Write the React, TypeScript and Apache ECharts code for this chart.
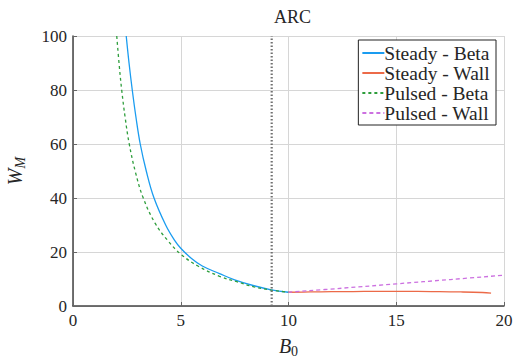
import React, { useEffect, useRef } from "react";
import * as echarts from "echarts";

const xTicks = [0, 5, 10, 15, 20];
const yTicks = [0, 20, 40, 60, 80, 100];

const steadyBeta: [number, number][] = [
  [2.47, 100], [2.6, 90], [2.75, 80], [2.92, 70], [3.12, 60], [3.4, 50], [3.76, 40],
  [4.3, 30], [4.7, 24.5], [5.0, 21.4], [5.5, 17.6], [6.0, 14.8], [6.8, 12.0],
  [7.5, 9.7], [8.4, 7.5], [9.2, 6.0], [10, 5.1],
];
const steadyWall: [number, number][] = [
  [10, 5.1], [11, 5.2], [12, 5.3], [13, 5.35], [14, 5.4], [15, 5.4], [16, 5.4],
  [17, 5.3], [18, 5.2], [19, 5.0], [19.4, 4.8],
];
const pulsedBeta: [number, number][] = [
  [2.03, 100], [2.15, 88.7], [2.26, 80], [2.42, 69.8], [2.61, 60], [2.9, 49.5],
  [3.26, 40], [3.8, 30.8], [4.4, 24.2], [5.0, 19.2], [5.8, 14.8], [6.8, 11.0],
  [7.6, 9.0], [8.4, 7.1], [9.2, 5.9], [10, 5.1],
];
const pulsedWall: [number, number][] = [
  [10, 5.1], [12.5, 6.6], [15, 8.2], [17.5, 9.8], [20, 11.4],
];
const limitB = 9.22;

const FONT = "'Liberation Serif', serif";
const INK = "#262626";

export default function App() {
  const ref = useRef<HTMLDivElement>(null);
  useEffect(() => {
    document.body.style.margin = "0";
    if (!ref.current) return;
    const chart = echarts.init(ref.current, undefined, { renderer: "svg" });
    const line = (name: string, data: [number, number][], color: string, type: any) => ({
      name,
      type: "line",
      data,
      smooth: 0.4,
      symbol: "none",
      lineStyle: { color, width: 1.3, type },
      itemStyle: { color },
    });
    chart.setOption({
      animation: false,
      backgroundColor: "#fff",
      textStyle: { fontFamily: FONT },
      title: {
        text: "ARC",
        left: 269,
        top: 3,
        textStyle: { fontFamily: FONT, fontSize: 18, fontWeight: "normal", color: INK },
      },
      grid: { left: 73, right: 11, top: 36, bottom: 52, containLabel: false, outerBoundsMode: "none" },
      legend: {
        data: ["Steady - Beta", "Steady - Wall", "Pulsed - Beta", "Pulsed - Wall"],
        orient: "vertical",
        right: 19,
        top: 40,
        itemWidth: 22,
        itemHeight: 14,
        itemGap: 0,
        padding: [3, 6, 2, 3],
        borderColor: "#222",
        borderWidth: 1,
        borderRadius: 0,
        backgroundColor: "#fff",
        itemStyle: { color: "transparent", borderWidth: 0 },
        textStyle: { fontFamily: FONT, fontSize: 19.5, color: INK, padding: [0, 0, 0, -5] },
      },
      xAxis: {
        type: "value",
        min: 0,
        max: 20,
        interval: 5,
        name: "{i|B}{s|0}",
        nameLocation: "middle",
        nameGap: 28,
        nameTextStyle: {
          rich: {
            i: { fontFamily: FONT, fontStyle: "italic", fontSize: 20, color: INK },
            s: { fontFamily: FONT, fontSize: 14, color: INK, padding: [10, 0, 0, 0] },
          },
        },
        axisLine: { show: true, lineStyle: { color: "#444", width: 1.5 } },
        axisTick: { show: true, inside: true, length: 4, lineStyle: { color: "#666" } },
        axisLabel: { fontFamily: FONT, fontSize: 17, color: INK, margin: 6 },
        splitLine: { show: true, lineStyle: { color: "#d6d6d6", width: 1 } },
      },
      yAxis: {
        type: "value",
        min: 0,
        max: 100,
        interval: 20,
        name: "{i|W}{s|M}",
        nameLocation: "middle",
        nameGap: 46,
        nameTextStyle: {
          rich: {
            i: { fontFamily: FONT, fontStyle: "italic", fontSize: 20, color: INK },
            s: { fontFamily: FONT, fontStyle: "italic", fontSize: 14, color: INK, padding: [10, 0, 0, 0] },
          },
        },
        axisLine: { show: true, lineStyle: { color: "#444", width: 1.5 } },
        axisTick: { show: true, inside: true, length: 4, lineStyle: { color: "#666" } },
        axisLabel: { fontFamily: FONT, fontSize: 17, color: INK, margin: 6 },
        splitLine: { show: true, lineStyle: { color: "#d6d6d6", width: 1 } },
      },
      series: [
        line("Steady - Beta", steadyBeta, "#1a9cf0", "solid"),
        line("Steady - Wall", steadyWall, "#ec6a48", "solid"),
        line("Pulsed - Beta", pulsedBeta, "#2e9e3c", [3, 3]),
        line("Pulsed - Wall", pulsedWall, "#cc70e0", [4, 3]),
        {
          name: "limit",
          type: "line",
          data: [[limitB, 0], [limitB, 100]],
          symbol: "none",
          silent: true,
          lineStyle: { color: "#707070", width: 2.2, type: [1.5, 2] },
        },
      ],
    });
    return () => chart.dispose();
  }, []);
  return <div ref={ref} style={{ width: 515, height: 358 }} />;
}
